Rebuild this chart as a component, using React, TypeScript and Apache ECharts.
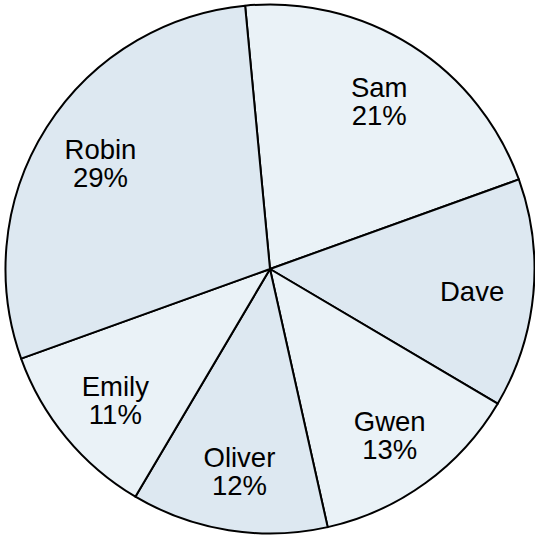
import React, { useEffect, useRef } from "react";
import * as echarts from "echarts";

const names = ["Sam", "Dave", "Gwen", "Oliver", "Emily", "Robin"];
const values = [21, 14, 13, 12, 11, 29];
const labelTexts = ["Sam\n21%", "Dave", "Gwen\n13%", "Oliver\n12%", "Emily\n11%", "Robin\n29%"];
const colors = ["#eaf2f7", "#dde8f1", "#eaf2f7", "#dde8f1", "#eaf2f7", "#dde8f1"];

export default function App() {
  const ref = useRef<HTMLDivElement>(null);
  useEffect(() => {
    const chart = echarts.init(ref.current!, null, { renderer: "svg" });
    const data = names.map((n, i) => ({
      name: n,
      value: values[i],
      itemStyle: { color: colors[i] },
    }));
    chart.setOption({
      animation: false,
      series: [
        {
          type: "pie",
          center: [270, 269],
          radius: [0, 264.5],
          startAngle: 95.4,
          clockwise: true,
          silent: true,
          label: { show: false },
          labelLine: { show: false },
          itemStyle: { borderColor: "#000", borderWidth: 2 },
          data,
        },
        {
          type: "pie",
          center: [271, 272],
          radius: [134, 264],
          startAngle: 95.4,
          clockwise: true,
          silent: true,
          itemStyle: { color: "transparent", borderWidth: 0 },
          label: {
            show: true,
            position: "inside",
            formatter: (p: any) => labelTexts[p.dataIndex],
            fontFamily: "'Liberation Sans', Arial, sans-serif",
            fontSize: 27.5,
            lineHeight: 28,
            color: "#000",
            align: "center",
          },
          labelLine: { show: false },
          data: names.map((n, i) => ({ name: n, value: values[i] })),
        },
      ],
    });
    return () => chart.dispose();
  }, []);
  return (
    <div
      ref={ref}
      style={{ position: "fixed", left: 0, top: 0, width: 535, height: 537, background: "#fff" }}
    />
  );
}
